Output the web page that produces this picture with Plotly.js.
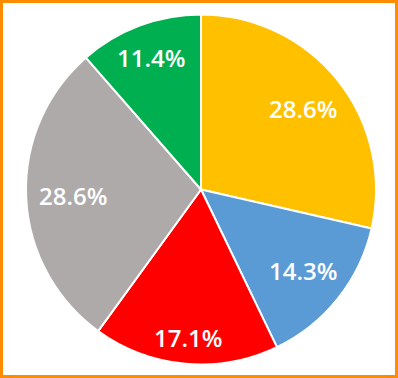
<!DOCTYPE html>
<html><head><meta charset="utf-8">
<script src="https://cdn.plot.ly/plotly-3.0.1.min.js"></script>
<style>html,body{margin:0;padding:0;background:#fff;}#chart{width:398px;height:378px;}</style>
</head><body><div id="chart"></div>
<script>
const labels = ["A", "B", "C", "D", "E"];
const values = [10, 5, 6, 10, 4];
const colors = ["#FFC000", "#5B9BD5", "#FF0000", "#AEAAAA", "#00B050"];

const W = 398, H = 378, cx = 201, cyTop = 189.5, R = 175;
const cy = H - cyTop;
const total = values.reduce((a, b) => a + b, 0);

// label placement: box centred on slice mid-angle ray, far corner inside the rim
const halfW = 36, halfH = 9, rimDist = R - 10;
const annotations = [];
let acc = 0;
values.forEach((v, i) => {
  const mid = (acc + v / 2) / total * 2 * Math.PI;
  acc += v;
  const s = Math.sin(mid), c = Math.cos(mid);
  const b = Math.abs(s) * halfW + Math.abs(c) * halfH;
  const k = halfW * halfW + halfH * halfH - rimDist * rimDist;
  const r = (-b + Math.sqrt(b * b - k));
  const px = cx + r * s, pyTop = cyTop - r * c;
  annotations.push({
    xref: 'paper', yref: 'paper', x: px / W, y: (H - pyTop) / H,
    xanchor: 'center', yanchor: 'middle', showarrow: false,
    text: (v / total * 100).toFixed(1) + '%',
    font: {family: 'Open Sans, Noto Sans, sans-serif', size: 24, color: '#FFFFFF', weight: 600}
  });
});

Plotly.newPlot('chart', [{
  type: 'pie',
  labels: labels,
  values: values,
  sort: false,
  direction: 'clockwise',
  rotation: 0,
  marker: {colors: colors, line: {color: '#FFFFFF', width: 2}},
  textinfo: 'none',
  hoverinfo: 'none',
  domain: {x: [(cx - R) / W, (cx + R) / W], y: [(cy - R) / H, (cy + R) / H]}
}], {
  width: W, height: H,
  margin: {l: 0, r: 0, t: 0, b: 0},
  showlegend: false,
  paper_bgcolor: '#FFFFFF',
  annotations: annotations,
  shapes: [{type: 'rect', xref: 'paper', yref: 'paper',
    x0: 1.5 / W, x1: 1 - 1.5 / W, y0: 1.5 / H, y1: 1 - 1.5 / H,
    line: {color: '#FF8C00', width: 3}}]
}, {displayModeBar: false, staticPlot: true});
</script></body></html>
